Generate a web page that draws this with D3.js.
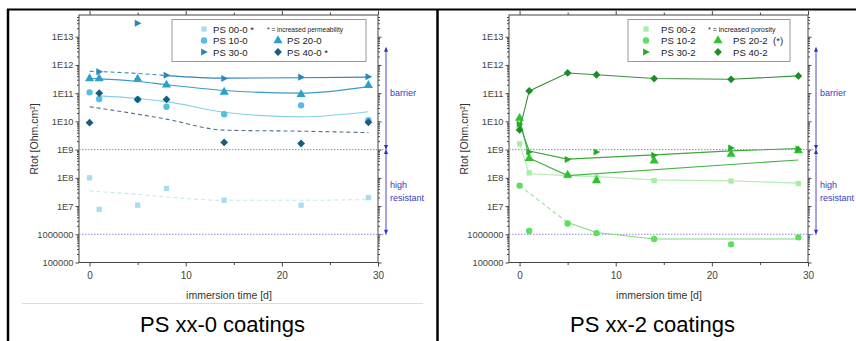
<!DOCTYPE html>
<html><head><meta charset="utf-8">
<script src="https://cdn.jsdelivr.net/npm/d3@7"></script>
<style>html,body{margin:0;padding:0;background:#fff;}svg{display:block;}</style>
</head><body>
<svg id="c" width="856" height="341"></svg>
<script>
// ---------- DATA ----------
const days = [0, 1, 5, 8, 14, 22, 29];
const yTickValues = [1e5, 1e6, 1e7, 1e8, 1e9, 1e10, 1e11, 1e12, 1e13];
const xTickValues = [0, 10, 20, 30];
const xMinorTicks = [5, 15, 25];

// PS xx-0 coatings (points)
const ps00_0 = [1e8, 7.6e6, 1.07e7, 4.2e7, 1.6e7, 1.07e7, 2e7];
const ps10_0 = [1.07e11, 6.2e10, 6e10, 3.3e10, 1.8e10, 3.7e10, 1.1e10];
const ps20_0 = [3.3e11, 3.3e11, 3.2e11, 1.95e11, 1.1e11, 9e10, 1.9e11];
const ps30_0 = [null, 5.7e11, 3e13, 4.3e11, 3.3e11, 3.7e11, 3.8e11];
const ps40_0 = [9e9, 1e11, 6e10, 6e10, 1.8e9, 1.65e9, 9.3e9];
// PS xx-0 trend lines [day, value]
const fit00_0 = [[0, 3.4e7], [5, 2.6e7], [8, 2.1e7], [14, 1.6e7], [22, 1.6e7], [29, 1.7e7]];
const fit10_0 = [[1, 8e10], [5, 6.5e10], [8, 5e10], [14, 2.1e10], [22, 1.45e10], [29, 2.2e10]];
const fit20_0 = [[0, 3.3e11], [1, 3.2e11], [5, 2.6e11], [8, 2e11], [14, 1.25e11], [22, 1e11], [29, 1.7e11]];
const fit30_0a = [[0, 6e11], [5, 5e11], [8, 4.2e11]];
const fit30_0b = [[8, 4.2e11], [14, 3.4e11], [22, 3.5e11], [29, 3.7e11]];
const fit40_0 = [[0, 3.3e10], [5, 1.8e10], [8, 1.2e10], [14, 4.9e9], [22, 4.5e9], [29, 4e9]];

// PS xx-2 coatings (points)
const ps00_2 = [1.6e9, 1.5e8, 1.2e8, 1.1e8, 8e7, 7.7e7, 6.3e7];
const ps10_2 = [5.3e7, 1.3e6, 2.4e6, 1.1e6, 6.8e5, 4.4e5, 7.8e5];
const ps20_2 = [1.3e10, 4.9e8, 1.25e8, 8e7, 4e8, 6.9e8, 9.2e8];
const ps30_2 = [8e9, 8.3e8, 4.5e8, 8.3e8, 6.3e8, 1.15e9, 1.05e9];
const ps40_2 = [5e9, 1.2e11, 5.2e11, 4.5e11, 3.3e11, 3.1e11, 4.1e11];
// PS xx-2 trend lines
const fit00_2 = [[0, 1.6e9], [1, 1.4e8], [5, 1.2e8], [8, 1.1e8], [14, 8.5e7], [22, 7.8e7], [29, 6.5e7]];
const fit10_2a = [[0, 5.3e7], [5, 2.6e6]];
const fit10_2b = [[5, 2.6e6], [8, 1.15e6], [14, 6.8e5], [22, 6.8e5], [29, 6.8e5]];
const fit20_2 = [[0, 1.3e10], [1, 5e8], [5, 1.2e8], [29, 4.3e8]];
const fit30_2 = [[0, 8e9], [1, 8.9e8], [5, 4.6e8], [14, 6.5e8], [22, 9e8], [29, 1.1e9]];
const fit40_2 = [[0, 5e9], [1, 1.2e11], [5, 5.2e11], [8, 4.5e11], [14, 3.3e11], [22, 3.1e11], [29, 4.1e11]];

const refLines = [1e9, 1e6];
const barrierRange = [1e9, Math.pow(10, 12.63)];
const resistRange = [1e6, 1e9];

const FONT = "'Liberation Sans', Arial, Helvetica, sans-serif";
const svg = d3.select('#c');

// ---------- table frame ----------
svg.append('line').attr('x1', 7).attr('x2', 856).attr('y1', 9.5).attr('y2', 9.5).attr('stroke', '#000').attr('stroke-width', 2);
svg.append('line').attr('x1', 8).attr('x2', 8).attr('y1', 9).attr('y2', 341).attr('stroke', '#000').attr('stroke-width', 2.5);
svg.append('line').attr('x1', 437.5).attr('x2', 437.5).attr('y1', 9).attr('y2', 341).attr('stroke', '#000').attr('stroke-width', 2.5);
svg.append('line').attr('x1', 22).attr('x2', 423).attr('y1', 303.5).attr('y2', 303.5).attr('stroke', '#dcdcdc').attr('stroke-width', 1);

function symbolPath(kind) {
  if (kind === 'square') return d3.symbol(d3.symbolSquare, 28)();
  if (kind === 'circle') return d3.symbol(d3.symbolCircle, 32)();
  if (kind === 'triangle') return d3.symbol(d3.symbolTriangle, 36)();
  if (kind === 'diamond') { const s = 3.9; return `M0,${-s}L${s},0L0,${s}L${-s},0Z`; }
  const s = 6.4; // right-pointing triangle
  return `M${-s*0.45},${-s*0.55}L${s*0.6},0L${-s*0.45},${s*0.55}Z`;
}

function panel(ox, cfg) {
  const g = svg.append('g');
  const x = d3.scaleLinear().domain([-1.1, 30]).range([ox + 79, ox + 378]);
  const y = d3.scaleLog().domain([1e5, Math.pow(10, 13.77)]).range([262.5, 15]);
  const minor = [];
  for (let e = 5; e <= 13; e++) for (let m = 2; m <= 9; m++) { const v = m * Math.pow(10, e); if (v < y.domain()[1]) minor.push(v); }
  const fmt = v => { const e = Math.round(Math.log10(v)); return e >= 7 ? '1E' + e : String(Math.round(v)); };

  function styleAxis(sel, fs) {
    sel.select('.domain').remove();
    sel.selectAll('line').attr('stroke', '#333').attr('stroke-width', 0.9);
    sel.selectAll('text').attr('fill', '#444').style('font-family', FONT).style('font-size', fs + 'px');
  }
  g.append('g').attr('transform', `translate(${ox + 79},0)`).call(d3.axisLeft(y).tickValues(yTickValues).tickFormat(fmt).tickSize(3.5).tickPadding(2)).call(s => styleAxis(s, 9.3));
  g.append('g').attr('transform', `translate(${ox + 79},0)`).call(d3.axisLeft(y).tickValues(minor).tickFormat('').tickSize(2)).call(s => styleAxis(s, 9));
  g.append('g').attr('transform', `translate(${ox + 378},0)`).call(d3.axisRight(y).tickValues(yTickValues).tickFormat('').tickSize(3.5)).call(s => styleAxis(s, 9));
  g.append('g').attr('transform', `translate(${ox + 378},0)`).call(d3.axisRight(y).tickValues(minor).tickFormat('').tickSize(2)).call(s => styleAxis(s, 9));
  g.append('g').attr('transform', `translate(0,262.5)`).call(d3.axisBottom(x).tickValues(xTickValues).tickFormat(d3.format('d')).tickSize(4).tickPadding(5)).call(s => styleAxis(s, 10));
  g.append('g').attr('transform', `translate(0,262.5)`).call(d3.axisBottom(x).tickValues(xMinorTicks).tickFormat('').tickSize(2.5)).call(s => styleAxis(s, 10));
  g.append('g').attr('transform', `translate(0,15)`).call(d3.axisTop(x).tickValues(xTickValues).tickFormat('').tickSize(4)).call(s => styleAxis(s, 10));
  g.append('g').attr('transform', `translate(0,15)`).call(d3.axisTop(x).tickValues(xMinorTicks).tickFormat('').tickSize(2.5)).call(s => styleAxis(s, 10));
  g.append('rect').attr('x', ox + 79).attr('y', 15).attr('width', 299).attr('height', 247.5).attr('fill', 'none').attr('stroke', '#444').attr('stroke-width', 1);

  // reference dotted lines
  refLines.forEach(v => {
    g.append('line').attr('x1', ox + 79).attr('x2', ox + 387).attr('y1', y(v)).attr('y2', y(v))
      .attr('stroke', '#8a8ad6').attr('stroke-width', 1).attr('stroke-dasharray', '1.5,1.5');
  });

  // arrows
  const ax = ox + 386;
  function arrow(r, gap) {
    const y1 = y(r[0]) - gap, y2 = y(r[1]) + gap;
    g.append('line').attr('x1', ax).attr('x2', ax).attr('y1', y1).attr('y2', y2).attr('stroke', '#4a4ad0').attr('stroke-width', 1);
    g.append('path').attr('d', `M${ax},${y2 - 2}l-2,5l4,0Z`).attr('fill', '#3030c0');
    g.append('path').attr('d', `M${ax},${y1 + 2}l-2,-5l4,0Z`).attr('fill', '#3030c0');
  }
  arrow(barrierRange, 1.5);
  arrow(resistRange, 1.5);
  const lab = (t, yy) => g.append('text').attr('x', ox + 390).attr('y', yy).text(t).attr('fill', '#3a3ac8').style('font-family', FONT).style('font-size', '9px');
  lab('barrier', y(1e11) + 3);
  lab('high', 188);
  lab('resistant', 201);

  // trend lines
  cfg.lines.forEach(L => {
    const line = d3.line().x(d => x(d[0])).y(d => y(d[1])).curve(L.smooth ? d3.curveMonotoneX : d3.curveLinear);
    g.append('path').attr('d', line(L.data)).attr('fill', 'none').attr('stroke', L.color)
      .attr('stroke-width', L.w || 1.1).attr('stroke-dasharray', L.dash ? '4,3' : null);
  });

  // points
  cfg.series.forEach(S => {
    S.values.forEach((v, i) => {
      if (v == null) return;
      g.append('path').attr('d', symbolPath(S.kind)).attr('transform', `translate(${x(days[i])},${y(v)})`).attr('fill', S.color);
    });
  });

  // legend
  const L = cfg.legend;
  g.append('rect').attr('x', L.x0).attr('y', 19.5).attr('width', L.x1 - L.x0).attr('height', 42).attr('fill', '#fff').attr('stroke', '#999').attr('stroke-width', 1);
  const rows = [29, 40.5, 52];
  cfg.legendItems.forEach(it => {
    const sx = it.col === 0 ? L.s0 : L.s1, tx = it.col === 0 ? L.t0 : L.t1;
    const S = cfg.series[it.idx];
    g.append('path').attr('d', symbolPath(S.kind)).attr('transform', `translate(${sx},${rows[it.row]})`).attr('fill', S.color);
    g.append('text').attr('x', tx).attr('y', rows[it.row] + 3.5).text(it.label).attr('fill', '#222')
      .style('white-space', 'pre').attr('xml:space', 'preserve').style('font-family', FONT).style('font-size', '9.6px');
  });
  g.append('text').attr('x', L.nx).attr('y', 32).text(L.note).attr('fill', '#222').style('font-family', FONT).style('font-size', L.nfs + 'px');

  // axis titles
  g.append('text').attr('transform', `translate(${ox + 34},139) rotate(-90)`).attr('text-anchor', 'middle').attr('dy', '0.35em')
    .text('Rtot [Ohm.cm²]').attr('fill', '#333').style('font-family', FONT).style('font-size', '10.5px');
  g.append('text').attr('x', ox + 229).attr('y', 299).attr('text-anchor', 'middle').text('immersion time [d]').attr('fill', '#333').style('font-family', FONT).style('font-size', '10.5px');
  // caption
  g.append('text').attr('x', ox + 222.5).attr('y', 332).attr('text-anchor', 'middle').text(cfg.caption).attr('fill', '#000').style('font-family', FONT).style('font-size', '22px');
}

panel(0, {
  caption: 'PS xx-0 coatings',
  series: [
    { values: ps00_0, kind: 'square', color: '#a9dcee' },
    { values: ps10_0, kind: 'circle', color: '#55bde3' },
    { values: ps20_0, kind: 'triangle', color: '#2d9fcc' },
    { values: ps30_0, kind: 'right', color: '#2789b9' },
    { values: ps40_0, kind: 'diamond', color: '#185d7e' }
  ],
  lines: [
    { data: fit00_0, color: '#c8e8f2', dash: true, smooth: true },
    { data: fit10_0, color: '#86d0ea', smooth: true },
    { data: fit20_0, color: '#3a9cc6', smooth: true },
    { data: fit30_0a, color: '#3a88b2', dash: true, smooth: true },
    { data: fit30_0b, color: '#2f86b2', smooth: true },
    { data: fit40_0, color: '#4d6e86', dash: true, smooth: true }
  ],
  legend: { x0: 172, x1: 366, s0: 204, t0: 213, s1: 278, t1: 287, nx: 267, note: '* = increased permeability', nfs: 6.6 },
  legendItems: [
    { idx: 0, col: 0, row: 0, label: 'PS 00-0 *' },
    { idx: 1, col: 0, row: 1, label: 'PS 10-0' },
    { idx: 2, col: 1, row: 1, label: 'PS 20-0' },
    { idx: 3, col: 0, row: 2, label: 'PS 30-0' },
    { idx: 4, col: 1, row: 2, label: 'PS 40-0 *' }
  ]
});

panel(430, {
  caption: 'PS xx-2 coatings',
  series: [
    { values: ps00_2, kind: 'square', color: '#a6eea6' },
    { values: ps10_2, kind: 'circle', color: '#5ae05a' },
    { values: ps20_2, kind: 'triangle', color: '#30c030' },
    { values: ps30_2, kind: 'right', color: '#27aa27' },
    { values: ps40_2, kind: 'diamond', color: '#1e8c28' }
  ],
  lines: [
    { data: fit00_2, color: '#b6ecb6' },
    { data: fit10_2a, color: '#8ee28e', dash: true },
    { data: fit10_2b, color: '#7edc7e' },
    { data: fit20_2, color: '#44b644' },
    { data: fit30_2, color: '#3da83d' },
    { data: fit40_2, color: '#3a8f3a' }
  ],
  legend: { x0: 628, x1: 790, s0: 646, t0: 661, s1: 718, t1: 733, nx: 708, note: '* = increased porosity', nfs: 7 },
  legendItems: [
    { idx: 0, col: 0, row: 0, label: 'PS 00-2' },
    { idx: 1, col: 0, row: 1, label: 'PS 10-2' },
    { idx: 2, col: 1, row: 1, label: 'PS 20-2  (*)' },
    { idx: 3, col: 0, row: 2, label: 'PS 30-2' },
    { idx: 4, col: 1, row: 2, label: 'PS 40-2' }
  ]
});
</script>
</body></html>
